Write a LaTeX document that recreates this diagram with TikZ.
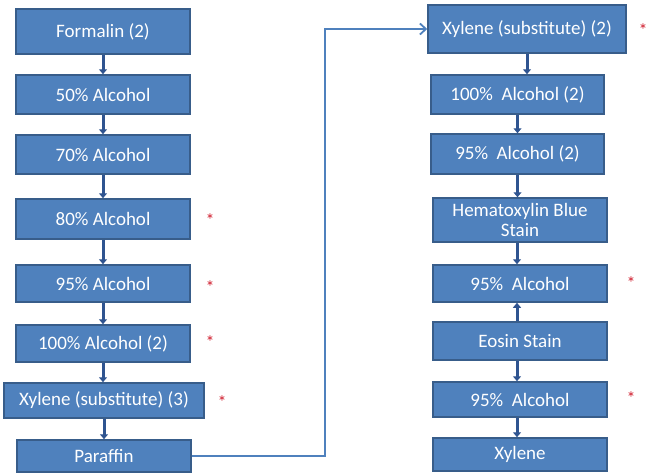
\documentclass[tikz,border=0pt]{standalone}
\usepackage{fontspec}
\setmainfont{Carlito}
\usetikzlibrary{arrows.meta}
\definecolor{boxfill}{HTML}{4F81BD}
\definecolor{boxline}{HTML}{385D8A}
\definecolor{arrcol}{HTML}{2F5490}
\definecolor{conncol}{HTML}{4F81BD}
\definecolor{starcol}{HTML}{D02030}
\tikzset{
  box/.style={draw=boxline, line width=1.5pt, fill=boxfill, text=white, inner sep=0pt,
    font=\fontsize{19}{20}\selectfont, align=center},
  arr/.style={draw=arrcol, line width=3pt, -{Triangle[length=5pt,width=8pt]}},
  conn/.style={draw=conncol, line width=2pt, -{Straight Barb[length=6pt,width=11pt,line width=1.8pt]}},
  star/.style={text=starcol, inner sep=0pt, font=\fontsize{18}{18}\selectfont}
}
\newcommand\bx[6]{\node[box, minimum width={(#4-#2)*1pt}, minimum height={(#5-#3)*1pt}] (#1) at ({(#2+#4)/2},{(#3+#5)/2}) {#6};}
\begin{document}
\begin{tikzpicture}[x=1pt,y=-1pt]
\useasboundingbox (0,0) rectangle (659,474);
% left column
\bx{F}{16}{9}{190}{54}{Formalin (2)}
\bx{A50}{16}{75}{190}{114}{50\% Alcohol}
\bx{A70}{16}{135}{190}{174}{70\% Alcohol}
\bx{A80}{16}{199}{190}{239}{80\% Alcohol}
\bx{A95}{16}{265}{190}{302}{95\% Alcohol}
\bx{A100}{16}{325}{190}{362}{100\% Alcohol (2)}
\bx{X3}{4}{383}{204}{418}{Xylene (substitute) (3)}
\bx{P}{17}{440}{191}{472}{Paraffin}
% right column
\bx{X2}{428}{5}{626}{53}{Xylene (substitute) (2)}
\bx{R100}{431}{75}{604}{114}{100\%\ \ Alcohol (2)}
\bx{R95a}{431}{134}{604}{174}{95\%\ \ Alcohol (2)}
\bx{H}{433}{198}{607}{242}{Hematoxylin Blue\\Stain}
\bx{R95b}{433}{265}{607}{302}{95\%\ \ Alcohol}
\bx{E}{433}{322}{607}{360}{Eosin Stain}
\bx{R95c}{433}{382}{607}{417}{95\%\ \ Alcohol}
\bx{XY}{433}{438}{607}{471}{Xylene}
% stars
\node[star] (s1) at (210,220) {*};
\node[star] (s2) at (210,287) {*};
\node[star] (s3) at (210,342) {*};
\node[star] (s4) at (222,402) {*};
\node[star] (s5) at (643,30) {*};
\node[star] (s6) at (631,283) {*};
\node[star] (s7) at (631,398) {*};
% left arrows
\foreach \a/\b in {F/A50, A50/A70, A70/A80, A80/A95, A95/A100, A100/X3, X3/P}
  \draw[arr] (\a.south) -- (\a.south |- \b.north);
% right arrows
\draw[arr] (X2.south) -- (X2.south |- R100.north);
\draw[arr] (R100.south) -- (R100.south |- R95a.north);
\draw[arr] (R95a.south) -- (R95a.south |- H.north);
\draw[arr] ([xshift=-3pt]H.south) -- ([xshift=-3pt]H.south |- R95b.north);
\draw[arr] ([xshift=-3pt]E.north) -- ([xshift=-3pt]E.north |- R95b.south);
\draw[arr] ([xshift=-3pt]E.south) -- ([xshift=-3pt]E.south |- R95c.north);
\draw[arr] ([xshift=-3pt]R95c.south) -- ([xshift=-3pt]R95c.south |- XY.north);
% long connector
\coordinate (turn) at (325,240);
\draw[conn] (P.east) -| (turn) |- (X2.west);
\end{tikzpicture}
\end{document}
